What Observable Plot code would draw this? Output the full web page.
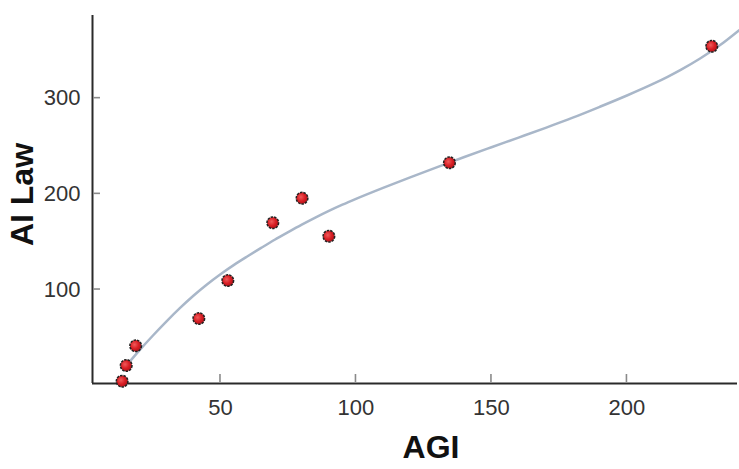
<!DOCTYPE html>
<html>
<head>
<meta charset="utf-8">
<script src="https://cdn.jsdelivr.net/npm/d3@7"></script>
<script src="https://cdn.jsdelivr.net/npm/@observablehq/plot@0.6"></script>
<style>
  html, body { margin: 0; padding: 0; background: #fff; }
  #chart svg { display: block; }
</style>
</head>
<body>
<div id="chart"></div>
<script>
// Data points
const agi   = [13.7, 15.2, 18.7, 42.0, 52.7, 69.3, 80.1, 90.0, 134.5, 231.3];
const aiLaw = [4.2, 20.6, 41.2, 69.7, 109.4, 169.8, 195.5, 155.7, 232.5, 354.3];

// Fitted trend curve
const curveAgi = [15, 20, 25, 30, 35, 40, 45, 50, 55, 60, 65, 70, 75, 80, 85, 90, 95, 100, 110, 120, 130, 140, 150, 160, 170, 180, 190, 200, 210, 215, 220, 227, 234, 241.3];
const curveLaw = [19.7, 36.2, 51.7, 66.5, 80.5, 93.5, 105.3, 116.0, 125.8, 134.8, 143.5, 152.0, 160.0, 167.8, 175.2, 182.2, 188.7, 194.8, 206.3, 217.3, 228.0, 238.5, 248.7, 258.8, 269.0, 279.6, 291.0, 302.8, 315.4, 322.3, 329.8, 341.4, 354.7, 370.8];

// Axis ticks and labels
const xTicks = [50, 100, 150, 200];
const yTicks = [100, 200, 300];
const xTitle = "AGI";
const yTitle = "AI Law";

const points = agi.map((x, i) => ({x, y: aiLaw[i]}));
const curve = curveAgi.map((x, i) => ({x, y: curveLaw[i]}));

const W = 739, H = 469, mL = 92, mR = 2, mT = 15, mB = 86;

const xDomain = [2.77, 240.8];
const yDomain = [1.78, 386.4];

const chart = Plot.plot({
  width: W,
  height: H,
  marginLeft: mL,
  marginRight: mR,
  marginTop: mT,
  marginBottom: mB,
  style: {fontFamily: "'Liberation Sans', Arial, sans-serif", background: "#fff"},
  x: {domain: xDomain},
  y: {domain: yDomain},
  marks: [
    // tick labels
    Plot.axisX(xTicks, {tickSize: 0, tickPadding: 16, fontSize: 22, fill: "#333", label: null}),
    Plot.axisY(yTicks, {tickSize: 0, tickPadding: 12, fontSize: 22, fill: "#333", label: null}),
    // axis lines
    Plot.ruleY([yDomain[0]], {stroke: "#2a2a2a", strokeWidth: 2}),
    Plot.ruleX([xDomain[0]], {stroke: "#2a2a2a", strokeWidth: 2}),
    // trend curve
    Plot.line(curve, {x: "x", y: "y", curve: "monotone-x", stroke: "#a9b7c9", strokeWidth: 2.5}),
    // points
    Plot.dot(points, {x: "x", y: "y", r: 5.8, fill: "url(#redGrad)", stroke: "#222", strokeWidth: 1.5, strokeDasharray: "2.5,1"}),
    // axis titles
    Plot.text([xTitle], {frameAnchor: "bottom", dx: 16, dy: 64, fontSize: 32, fontWeight: "bold", fill: "#111", lineAnchor: "middle", textAnchor: "middle"}),
    Plot.text([yTitle], {frameAnchor: "left", dx: -70, dy: -5, rotate: -90, fontSize: 32, fontWeight: "bold", fill: "#111", lineAnchor: "middle", textAnchor: "middle"})
  ]
});

const svg = d3.select(chart);

// inward tick marks, positioned through Plot's own scales
const sx = chart.scale("x"), sy = chart.scale("y");
const x0 = sx.apply(xDomain[0]), y0 = sy.apply(yDomain[0]);
const tg = svg.append("g").attr("stroke", "#8a8a8a").attr("stroke-width", 1.6);
xTicks.forEach(v => tg.append("line")
  .attr("x1", sx.apply(v)).attr("x2", sx.apply(v))
  .attr("y1", y0 - 1).attr("y2", y0 - 9));
yTicks.forEach(v => tg.append("line")
  .attr("y1", sy.apply(v)).attr("y2", sy.apply(v))
  .attr("x1", x0 + 1).attr("x2", x0 + 8));

// radial gradient for the dots
const defs = svg.insert("defs", ":first-child");
const g = defs.append("radialGradient").attr("id", "redGrad").attr("cx", "40%").attr("cy", "40%").attr("r", "60%");
g.append("stop").attr("offset", "0%").attr("stop-color", "#f05a5a");
g.append("stop").attr("offset", "60%").attr("stop-color", "#d81e24");
g.append("stop").attr("offset", "100%").attr("stop-color", "#b5141a");

document.getElementById("chart").append(chart);
</script>
</body>
</html>
